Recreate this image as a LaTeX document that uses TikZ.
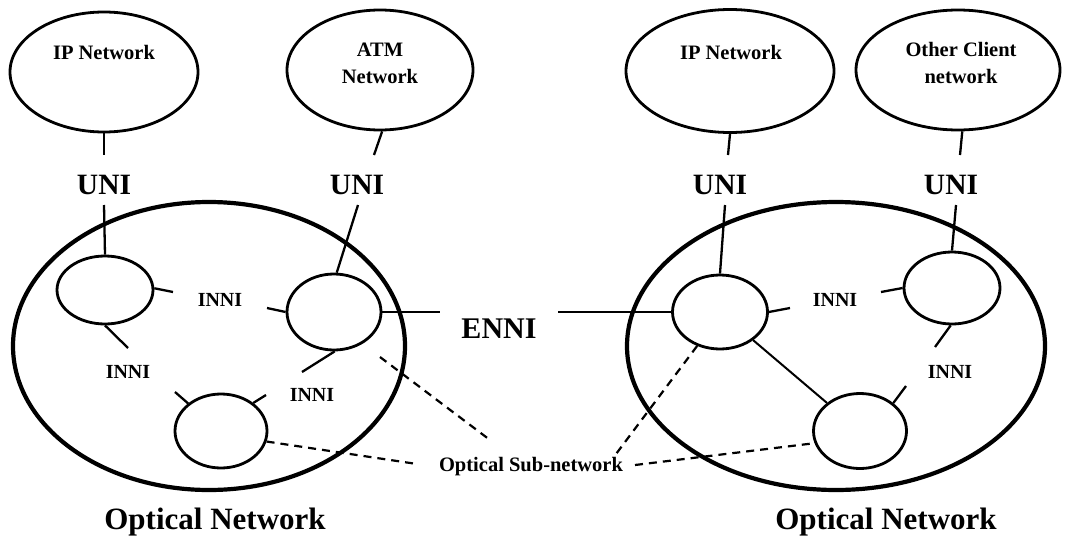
\documentclass[tikz,border=0pt]{standalone}
\usepackage{fontspec}
\setmainfont{Liberation Serif}
\usetikzlibrary{shapes.geometric}
\tikzset{
  bigell/.style={draw, ellipse, line width=4.2pt, inner sep=0pt},
  cliell/.style={draw, ellipse, line width=2.8pt, inner sep=0pt},
  subell/.style={draw, ellipse, line width=2.8pt, inner sep=0pt},
  conn/.style={line width=2.3pt},
  dashln/.style={line width=2.2pt, dash pattern=on 8pt off 6pt},
  smalltxt/.style={font=\bfseries\fontsize{20.5}{27}\selectfont, inner sep=0pt, align=center},
  innitxt/.style={font=\bfseries\fontsize{20}{24}\selectfont, inner sep=0pt},
  unitxt/.style={font=\bfseries\fontsize{29.5}{34}\selectfont, inner sep=0pt},
  bigtxt/.style={font=\bfseries\fontsize{31}{36}\selectfont, inner sep=0pt},
}
\begin{document}
\begin{tikzpicture}[x=1pt,y=-1pt]
\useasboundingbox (0,0) rectangle (1078,538);
% optical networks
\node[bigell, minimum width=392pt, minimum height=288pt] (bigL) at (209,346) {};
\node[bigell, minimum width=418pt, minimum height=288pt] (bigR) at (836,346) {};
% client networks
\node[cliell, minimum width=188pt, minimum height=120pt] (ipL) at (104,72) {};
\node[cliell, minimum width=186pt, minimum height=120pt] (atm) at (380,70) {};
\node[cliell, minimum width=208pt, minimum height=123pt] (ipR) at (730,71) {};
\node[cliell, minimum width=204pt, minimum height=120pt] (oth) at (958,70) {};
\node[smalltxt] (tipL) at (104,52) {IP Network};
\node[smalltxt] (tatm) at (380,63) {ATM\\Network};
\node[smalltxt] (tipR) at (731,52) {IP Network};
\node[smalltxt] (toth) at (961,63) {Other Client\\network};
% sub-networks
\node[subell, minimum width=96pt, minimum height=68pt] (A) at (105,290) {};
\node[subell, minimum width=94pt, minimum height=76pt] (B) at (334,312) {};
\node[subell, minimum width=92pt, minimum height=74pt] (C) at (221,431) {};
\node[subell, minimum width=95pt, minimum height=74pt] (Bp) at (720,312) {};
\node[subell, minimum width=96pt, minimum height=72pt] (Ap) at (952,288) {};
\node[subell, minimum width=93pt, minimum height=75pt] (Cp) at (860,431) {};
% UNI labels
\node[unitxt] (uni1) at (104,185) {UNI};
\node[unitxt] (uni2) at (357,185) {UNI};
\node[unitxt] (uni3) at (720,185) {UNI};
\node[unitxt] (uni4) at (951,185) {UNI};
% INNI labels
\node[innitxt] (inni1) at (220,300) {INNI};
\node[innitxt] (inni2) at (128,372) {INNI};
\node[innitxt] (inni3) at (312,395) {INNI};
\node[innitxt] (inni4) at (835,300) {INNI};
\node[innitxt] (inni5) at (950,372) {INNI};
% ENNI
\node[font=\bfseries\fontsize{30}{34}\selectfont, inner sep=0pt] (enni) at (499,329) {ENNI};
% sub-network label
\node[smalltxt] (sub) at (531,467) {Optical Sub-network};
% optical network labels
\node[bigtxt] (onL) at (215,522) {Optical Network};
\node[bigtxt] (onR) at (886,522) {Optical Network};
% free ends
\coordinate (u1a) at (104,155); \coordinate (u1b) at (104,205);
\coordinate (u2a) at (374,155); \coordinate (u2b) at (358,205);
\coordinate (u3a) at (728,155); \coordinate (u3b) at (725,205);
\coordinate (u4a) at (960,155); \coordinate (u4b) at (956,205);
\coordinate (sA1) at (173,292);
\coordinate (sB1) at (267,308);
\coordinate (sA2) at (128,348);
\coordinate (sC1) at (175,392);
\coordinate (sC2) at (266,395);
\coordinate (sB2) at (302,372);
\coordinate (sBp) at (790,308);
\coordinate (sAp1) at (881,292);
\coordinate (sAp2) at (935,347);
\coordinate (sCp) at (906,386);
\coordinate (eL) at (440,312);
\coordinate (eR) at (558,312);
\coordinate (d1s) at (380,357); \coordinate (d1e) at (490,440);
\coordinate (d2e) at (417,464);
\coordinate (d3e) at (613,458);
\coordinate (d4s) at (635,465);
% UNI connectors
\draw[conn] (ipL.south) -- (u1a);
\draw[conn] (u1b) -- (A.north);
\draw[conn] (atm.-88) -- (u2a);
\draw[conn] (u2b) -- (B.86);
\draw[conn] (ipR.south) -- (u3a);
\draw[conn] (u3b) -- (Bp.north);
\draw[conn] (oth.-86) -- (u4a);
\draw[conn] (u4b) -- (Ap.north);
% INNI stubs
\draw[conn] (A.2) -- (sA1);
\draw[conn] (B.west) -- (sB1);
\draw[conn] (A.south) -- (sA2);
\draw[conn] (C.140) -- (sC1);
\draw[conn] (C.41) -- (sC2);
\draw[conn] (B.-89) -- (sB2);
\draw[conn] (Bp.east) -- (sBp);
\draw[conn] (Ap.west) -- (sAp1);
\draw[conn] (Ap.-92) -- (sAp2);
\draw[conn] (Cp.40) -- (sCp);
\draw[line width=2pt] (Bp) -- (Cp);
% ENNI
\draw[line width=2.8pt] (B.east) -- (eL);
\draw[line width=2.8pt] (eR) -- (Bp.west);
% dashed to sub-network label
\draw[dashln] (d1s) -- (d1e);
\draw[dashln] (C.-13) -- (d2e);
\draw[dashln] (Bp.-124) -- (d3e);
\draw[dashln] (d4s) -- (Cp.-165);
\end{tikzpicture}
\end{document}
